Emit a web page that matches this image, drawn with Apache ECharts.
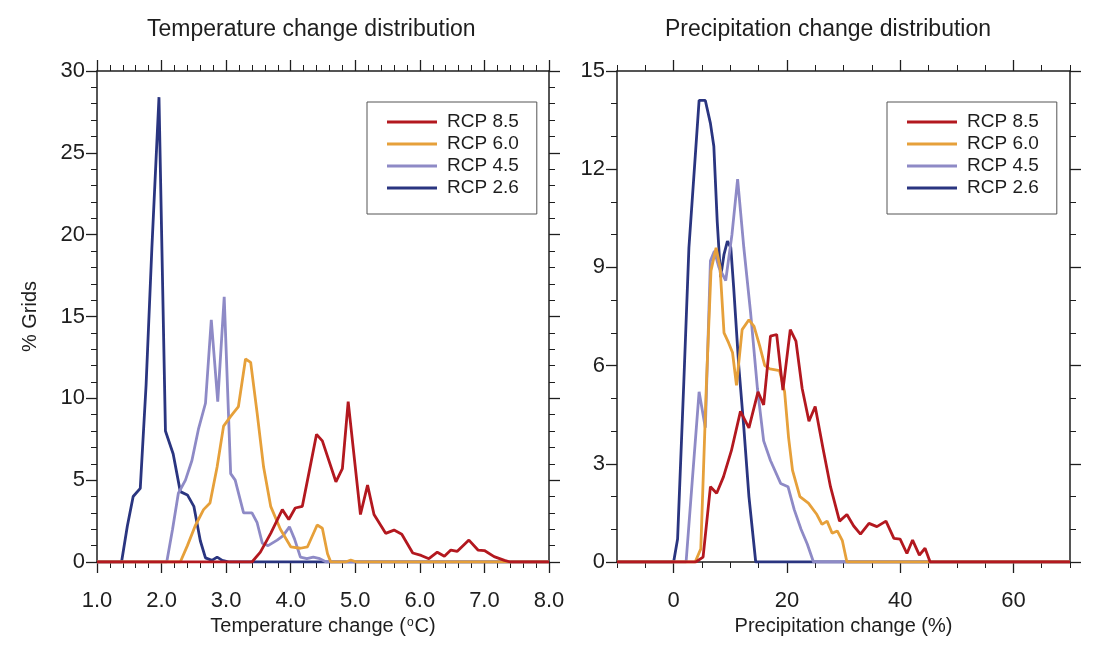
<!DOCTYPE html>
<html>
<head>
<meta charset="utf-8">
<script src="https://cdn.jsdelivr.net/npm/echarts@6/dist/echarts.min.js"></script>
<style>
  html, body { margin: 0; padding: 0; background: #ffffff; }
  #chart { width: 1095px; height: 648px; }
</style>
</head>
<body>
<div id="chart"></div>
<script>
// ---- data ----
const scenarioNames = ['RCP 8.5', 'RCP 6.0', 'RCP 4.5', 'RCP 2.6'];
const panelTitles = ['Temperature change distribution', 'Precipitation change distribution'];
const precipTickValues = [0, 20, 40, 60];

// Temperature change (°C) vs % grids
const tempRcp26 = [[1.0,0],[1.38,0],[1.47,2.2],[1.56,4.0],[1.67,4.5],[1.76,10.8],[1.85,19.2],[1.96,28.4],[2.06,8.0],[2.18,6.6],[2.29,4.3],[2.40,4.1],[2.50,3.4],[2.60,1.3],[2.68,0.25],[2.78,0.1],[2.86,0.3],[2.94,0.1],[3.05,0],[8.0,0]];
const tempRcp45 = [[1.0,0],[2.08,0],[2.17,2.0],[2.26,4.2],[2.37,5.0],[2.47,6.2],[2.57,8.1],[2.68,9.7],[2.77,14.8],[2.87,9.8],[2.97,16.2],[3.07,5.4],[3.14,5.0],[3.27,3.0],[3.40,3.0],[3.48,2.4],[3.56,1.15],[3.65,1.0],[3.79,1.34],[3.88,1.6],[3.98,2.15],[4.06,1.4],[4.15,0.3],[4.25,0.2],[4.35,0.3],[4.45,0.2],[4.55,0],[8.0,0]];
const tempRcp60 = [[1.0,0],[2.29,0],[2.40,1.0],[2.52,2.2],[2.65,3.2],[2.75,3.6],[2.86,5.8],[2.96,8.3],[3.07,8.9],[3.19,9.5],[3.30,12.4],[3.38,12.2],[3.48,9.1],[3.58,5.8],[3.69,3.4],[3.84,2.0],[4.0,0.93],[4.15,0.84],[4.26,0.93],[4.41,2.26],[4.49,2.06],[4.57,0.5],[4.62,0],[4.85,0],[4.93,0.12],[5.02,0],[8.0,0]];
const tempRcp85 = [[1.0,0],[3.40,0],[3.53,0.6],[3.69,1.75],[3.87,3.2],[3.97,2.6],[4.07,3.3],[4.18,3.4],[4.28,5.4],[4.40,7.8],[4.49,7.4],[4.70,4.9],[4.80,5.7],[4.89,9.8],[5.08,2.9],[5.19,4.7],[5.29,2.9],[5.47,1.75],[5.60,1.95],[5.72,1.7],[5.89,0.55],[6.02,0.4],[6.14,0.2],[6.27,0.6],[6.38,0.35],[6.48,0.73],[6.58,0.65],[6.76,1.34],[6.90,0.73],[7.0,0.7],[7.15,0.33],[7.31,0.1],[7.4,0],[8.0,0]];

// Precipitation change (%) vs % grids
const precipRcp26 = [[-10,0],[0,0],[0.7,0.7],[1.8,5.5],[2.7,9.6],[3.9,12.6],[4.5,14.1],[5.6,14.1],[6.5,13.4],[7.1,12.7],[7.7,10.4],[8.3,8.7],[8.9,9.4],[9.5,9.8],[10.1,9.6],[10.6,8.4],[11.5,6.0],[12.4,4.1],[13.3,2.0],[14.5,0],[70,0]];
const precipRcp45 = [[-10,0],[2.2,0],[3.3,2.5],[4.5,5.2],[5.6,4.1],[6.5,9.2],[7.2,9.5],[8.0,9.0],[9.2,8.6],[10.3,10.0],[11.3,11.7],[12.4,9.6],[13.6,7.6],[14.8,5.3],[15.9,3.7],[17.1,3.1],[18.9,2.4],[20.2,2.3],[21.3,1.6],[22.5,1.0],[23.6,0.55],[24.7,0],[70,0]];
const precipRcp60 = [[-10,0],[3.8,0],[4.8,0.4],[5.8,5.5],[6.6,8.9],[7.5,9.6],[8.2,9.0],[8.9,7.0],[9.7,6.7],[10.4,6.4],[11.1,5.4],[12.1,7.1],[13.3,7.4],[14.2,7.2],[15.2,6.6],[16.1,6.0],[17.0,5.9],[18.7,5.85],[19.6,5.2],[20.3,3.8],[21.0,2.8],[22.3,2.0],[23.8,1.8],[25.3,1.45],[26.2,1.15],[27.1,1.25],[28.0,0.88],[28.9,0.95],[29.8,0.65],[30.6,0],[70,0]];
const precipRcp85 = [[-10,0],[3.9,0],[5.2,0.15],[6.5,2.3],[7.6,2.1],[8.8,2.6],[10.2,3.4],[11.8,4.6],[13.3,4.1],[14.9,5.2],[15.9,4.8],[17.1,6.9],[18.2,6.95],[19.3,5.25],[20.6,7.1],[21.6,6.75],[22.7,5.3],[23.9,4.3],[25.0,4.75],[26.4,3.45],[27.7,2.3],[29.3,1.25],[30.6,1.45],[31.8,1.1],[33.0,0.85],[34.5,1.18],[35.9,1.08],[37.5,1.25],[38.9,0.72],[40.0,0.7],[41.2,0.26],[42.2,0.67],[43.4,0.21],[44.4,0.42],[45.3,0],[70,0]];

// ---- styling ----
const FONT = 'Liberation Sans, Arial, Helvetica, sans-serif';
const INK = '#1e1e1e';
const colors = { 'RCP 8.5': '#b3181f', 'RCP 6.0': '#e6a03a', 'RCP 4.5': '#8e8ac6', 'RCP 2.6': '#2a3580' };

const axisLine = { show: true, onZero: false, lineStyle: { color: INK, width: 1.5 } };
const majorTick = { show: true, inside: false, length: 11, lineStyle: { color: INK, width: 1.3 } };
const minorTick = (n) => ({ show: true, splitNumber: n, length: 6, lineStyle: { color: INK, width: 1 } });
const tickLabel = { color: INK, fontFamily: FONT, fontSize: 22 };

function lineSeries(name, data, xi, yi) {
  return {
    type: 'line', name: name, data: data, xAxisIndex: xi, yAxisIndex: yi,
    showSymbol: false, symbol: 'none', animation: false,
    itemStyle: { color: colors[name] },
    lineStyle: { color: colors[name], width: 2.8 }
  };
}

function legendAt(left) {
  return {
    data: scenarioNames, orient: 'vertical', left: left, top: 102,
    icon: 'rect', itemWidth: 50, itemHeight: 3, itemGap: 2,
    padding: [10, 18, 16, 20], borderColor: '#555', borderWidth: 1,
    selectedMode: false,
    textStyle: { color: INK, fontFamily: FONT, fontSize: 19, lineHeight: 20, padding: [0, 0, 0, 5] }
  };
}

const chart = echarts.init(document.getElementById('chart'), null, { renderer: 'canvas' });
const option = {
  backgroundColor: '#ffffff',
  animation: false,
  grid: [
    { left: 97, top: 71, width: 452, height: 491 },
    { left: 617, top: 71, width: 453, height: 491 }
  ],
  graphic: [
    { type: 'text', left: 327 - 180, top: 18, style: { text: panelTitles[0], fill: INK, font: '23px ' + FONT, width: 360, align: 'center' } },
    { type: 'text', left: 845 - 180, top: 18, style: { text: panelTitles[1], fill: INK, font: '23px ' + FONT, width: 360, align: 'center' } }
  ],
  xAxis: [
    { // 0 left bottom
      type: 'value', gridIndex: 0, position: 'bottom', min: 1, max: 8, interval: 1,
      axisLine: axisLine, axisTick: majorTick, minorTick: minorTick(5), splitLine: { show: false },
      axisLabel: Object.assign({}, tickLabel, { margin: 28, formatter: v => v.toFixed(1) }),
      name: 'Temperature change ({sup|o}C)', nameLocation: 'middle', nameGap: 54,
      nameTextStyle: { color: INK, fontFamily: FONT, fontSize: 20,
        rich: { sup: { fontSize: 12, verticalAlign: 'top', lineHeight: 20, padding: [0, 1, 0, 1], color: INK, fontFamily: FONT } } }
    },
    { // 1 left top
      type: 'value', gridIndex: 0, position: 'top', min: 1, max: 8, interval: 1,
      axisLine: axisLine, axisTick: majorTick, minorTick: minorTick(5), splitLine: { show: false },
      axisLabel: { show: false }
    },
    { // 2 right bottom, labelled major ticks
      type: 'value', gridIndex: 1, position: 'bottom', min: -10, max: 70, interval: 10,
      axisLine: axisLine,
      axisTick: Object.assign({}, majorTick, { customValues: precipTickValues }),
      splitLine: { show: false },
      axisLabel: Object.assign({}, tickLabel, { margin: 28, customValues: precipTickValues }),
      name: 'Precipitation change (%)', nameLocation: 'middle', nameGap: 54,
      nameTextStyle: { color: INK, fontFamily: FONT, fontSize: 20 }
    },
    { // 3 right bottom minor ticks
      type: 'value', gridIndex: 1, position: 'bottom', offset: 0, min: -10, max: 70, interval: 5,
      axisLine: { show: false, onZero: false }, axisTick: { show: true, inside: false, length: 6, lineStyle: { color: INK, width: 1 } },
      splitLine: { show: false }, axisLabel: { show: false }
    },
    { // 4 right top major ticks
      type: 'value', gridIndex: 1, position: 'top', min: -10, max: 70, interval: 10,
      axisLine: axisLine,
      axisTick: Object.assign({}, majorTick, { customValues: precipTickValues }),
      splitLine: { show: false }, axisLabel: { show: false }
    },
    { // 5 right top minor ticks
      type: 'value', gridIndex: 1, position: 'top', offset: 0, min: -10, max: 70, interval: 5,
      axisLine: { show: false, onZero: false }, axisTick: { show: true, inside: false, length: 6, lineStyle: { color: INK, width: 1 } },
      splitLine: { show: false }, axisLabel: { show: false }
    }
  ],
  yAxis: [
    { // 0 left grid, left
      type: 'value', gridIndex: 0, position: 'left', min: 0, max: 30, interval: 5,
      axisLine: axisLine, axisTick: majorTick, minorTick: minorTick(5), splitLine: { show: false },
      axisLabel: Object.assign({}, tickLabel, { margin: 12 }),
      name: '% Grids', nameLocation: 'middle', nameGap: 57,
      nameTextStyle: { color: INK, fontFamily: FONT, fontSize: 20 }
    },
    { // 1 left grid, right
      type: 'value', gridIndex: 0, position: 'right', min: 0, max: 30, interval: 5,
      axisLine: axisLine, axisTick: majorTick, minorTick: minorTick(5), splitLine: { show: false },
      axisLabel: { show: false }
    },
    { // 2 right grid, left
      type: 'value', gridIndex: 1, position: 'left', min: 0, max: 15, interval: 3,
      axisLine: axisLine, axisTick: majorTick, minorTick: minorTick(3), splitLine: { show: false },
      axisLabel: Object.assign({}, tickLabel, { margin: 12 })
    },
    { // 3 right grid, right
      type: 'value', gridIndex: 1, position: 'right', min: 0, max: 15, interval: 3,
      axisLine: axisLine, axisTick: majorTick, minorTick: minorTick(3), splitLine: { show: false },
      axisLabel: { show: false }
    }
  ],
  legend: [legendAt(367), legendAt(887)],
  series: [
    lineSeries('RCP 2.6', tempRcp26, 0, 0),
    lineSeries('RCP 4.5', tempRcp45, 0, 0),
    lineSeries('RCP 6.0', tempRcp60, 0, 0),
    lineSeries('RCP 8.5', tempRcp85, 0, 0),
    lineSeries('RCP 2.6', precipRcp26, 2, 2),
    lineSeries('RCP 4.5', precipRcp45, 2, 2),
    lineSeries('RCP 6.0', precipRcp60, 2, 2),
    lineSeries('RCP 8.5', precipRcp85, 2, 2)
  ]
};
chart.setOption(option);
</script>
</body>
</html>
